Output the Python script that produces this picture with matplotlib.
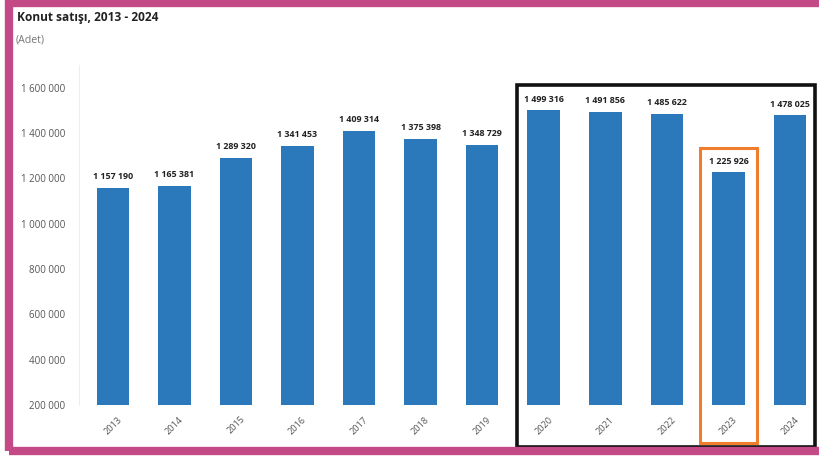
import matplotlib
matplotlib.use("Agg")
import matplotlib.pyplot as plt
from matplotlib.patches import Rectangle

# Yearly housing sales (units)
years = ["2013", "2014", "2015", "2016", "2017", "2018",
         "2019", "2020", "2021", "2022", "2023", "2024"]
sales = [1157190, 1165381, 1289320, 1341453, 1409314, 1375398,
         1348729, 1499316, 1491856, 1485622, 1225926, 1478025]
y_ticks = [200000, 400000, 600000, 800000, 1000000, 1200000, 1400000, 1600000]


def fmt(v):
    return f"{v:,}".replace(",", " ")


plt.rcParams["font.family"] = ["Open Sans", "DejaVu Sans"]

W, H = 819, 459
fig = plt.figure(figsize=(W / 100, H / 100), dpi=100)
fig.patch.set_facecolor("white")


def fx(px):
    return px / W


def fy(py):
    return 1 - py / H


ax = fig.add_axes([fx(79), fy(405), fx(811.5) - fx(79), fy(65) - fy(405)])
x = list(range(len(years)))
ax.bar(x, [v - 200000 for v in sales], bottom=200000, width=0.53,
       color="#2b78bb", zorder=2)
for xi, v in zip(x, sales):
    ax.text(xi, v + 30000, fmt(v), ha="center", va="bottom",
            fontsize=6.4, fontweight="bold", color="#222222")

ax.set_xlim(-0.55, 11.35)
ax.set_ylim(200000, 1700000)
ax.set_yticks(y_ticks)
ax.set_yticklabels([fmt(t) for t in y_ticks], fontsize=7, color="#555555")
ax.set_xticks(x)
ax.set_xticklabels(years, rotation=45, fontsize=6.6, color="#555555",
                   ha="center", rotation_mode="default")
ax.tick_params(axis="y", length=0, pad=10)
ax.tick_params(axis="x", length=0, pad=7)
for side in ["top", "right", "bottom"]:
    ax.spines[side].set_visible(False)
ax.spines["left"].set_color("#eeeeee")
ax.spines["left"].set_linewidth(0.8)

fig.text(fx(17), fy(17), "Konut satışı, 2013 - 2024", fontsize=8.6,
         fontweight="bold", color="#222222", va="center")
fig.text(fx(16), fy(40), "(Adet)", fontsize=7.6, color="#777777", va="center")

# highlight boxes
fig.patches.append(Rectangle((fx(517), fy(447)), fx(815) - fx(517), fy(85) - fy(447),
                             transform=fig.transFigure, fill=False,
                             edgecolor="#111111", linewidth=2.6, zorder=5))
fig.patches.append(Rectangle((fx(700), fy(443)), fx(757) - fx(700), fy(148) - fy(443),
                             transform=fig.transFigure, fill=False,
                             edgecolor="#ef7d2c", linewidth=2.2, zorder=5))

# outer frame
pink = "#c44a87"
fig.patches.append(Rectangle((fx(8.5), fy(451)), 1.2, fy(2.5) - fy(451),
                             transform=fig.transFigure, fill=False,
                             edgecolor=pink, linewidth=6, zorder=6))

fig.savefig("out.png", dpi=100)
